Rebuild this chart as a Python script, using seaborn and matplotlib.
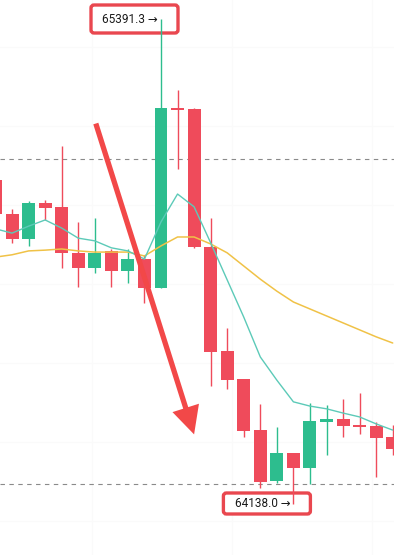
import matplotlib
matplotlib.use("Agg")
import matplotlib.pyplot as plt
import matplotlib.transforms as mtransforms
from matplotlib.patches import FancyBboxPatch
import numpy as np
import pandas as pd
import seaborn as sns

# ---------------- data ----------------
opens  = [64975, 64887, 64823, 64916, 64906, 64787, 64748, 64792, 64740, 64771,
          64696, 65159, 65159, 64802, 64533, 64461, 64329, 64197, 64270, 64231,
          64350, 64358, 64342, 64340, 64311]
highs  = [64988, 64900, 64921, 64924, 65063, 64867, 64877, 64797, 64797, 64782,
          65391.3, 65208, 65161, 64877, 64593, 64461, 64396, 64337, 64270, 64399,
          64394, 64409, 64425, 64350, 64342]
lows   = [64877, 64813, 64805, 64872, 64748, 64699, 64735, 64699, 64709, 64657,
          64696, 65004, 64800, 64443, 64435, 64311, 64179, 64192, 64138.0, 64190,
          64265, 64311, 64319, 64208, 64265]
closes = [64887, 64823, 64916, 64903, 64787, 64748, 64787, 64740, 64771, 64696,
          65161, 65156, 64802, 64531, 64458, 64327, 64195, 64270, 64231, 64353,
          64358, 64340, 64337, 64309, 64280]
ma_fast = [64849, 64838, 64856, 64872, 64851, 64825, 64818, 64800, 64792, 64771,
           64867, 64939, 64906, 64813, 64717, 64621, 64518, 64458, 64402, 64391,
           64384, 64373, 64363, 64345, 64329]
ma_slow = [64776, 64782, 64792, 64794, 64797, 64792, 64789, 64789, 64789, 64779,
           64805, 64828, 64828, 64810, 64787, 64753, 64719, 64688, 64660, 64642,
           64624, 64606, 64588, 64570, 64554]
price_lines = [65029.5, 64189.7]
high_label = "65391.3 \u2192"
low_label = "64138.0 \u2192"

# ---------------- style ----------------
sns.set_theme(style="white")
plt.rcParams["font.family"] = ["Roboto", "DejaVu Sans"]

GREEN = "#2dbd8e"
RED = "#ef4b5b"
TEAL = "#5ccab8"
YELLOW = "#f0c247"
BOX_RED = "#e9474f"
ARROW_RED = "#f24848"

idx = np.arange(len(opens))
df = pd.DataFrame({"i": idx, "open": opens, "high": highs, "low": lows,
                   "close": closes, "ma_fast": ma_fast, "ma_slow": ma_slow})
df["up"] = df["close"] >= df["open"]
df["color"] = np.where(df["up"], GREEN, RED)

W, H, DPI = 394, 555, 100
fig = plt.figure(figsize=(W / DPI, H / DPI), dpi=DPI)
ax = fig.add_axes([0, 0, 1, 1])
ax.set_facecolor("white")

# scales: candle spacing ~16.55 px, first candle centre at -4.5 px
ax.set_xlim(4.5 / 16.55, 398.5 / 16.55)
ax.set_ylim(64006.2, 65440.4)
ax.axis("off")

# very faint background grid
for gx in [5.83, 14.29, 22.75]:
    ax.axvline(gx, color="#fafafa", lw=0.8, zorder=0)
for gy in [65319, 65115, 64911, 64707, 64503, 64298, 64094]:
    ax.axhline(gy, color="#fafafa", lw=0.8, zorder=0)

# dashed price lines
for p in price_lines:
    ax.axhline(p, color="#8a8a8a", lw=0.8, ls=(0, (4, 4)), zorder=1)

# wicks
ax.vlines(df["i"], df["low"], df["high"], colors=df["color"], lw=1.0, zorder=3)
# bodies (minimum visible height for dojis)
body_bottom = np.minimum(df["open"], df["close"])
body_h = np.maximum(np.abs(df["close"] - df["open"]), 5.0)
ax.bar(df["i"], body_h, bottom=body_bottom, width=0.785, color=df["color"],
       linewidth=0, zorder=3)

# moving averages
sns.lineplot(data=df, x="i", y="ma_slow", color=YELLOW, lw=1.1, ax=ax, zorder=4)
sns.lineplot(data=df, x="i", y="ma_fast", color=TEAL, lw=1.0, ax=ax, zorder=4)
ax.set_xlabel("")
ax.set_ylabel("")

# big red arrow
ax.annotate("", xy=(12.05, 64311), xytext=(6.01, 65128),
            arrowprops=dict(arrowstyle="simple,head_length=2.0,head_width=2.0,tail_width=0.38",
                            mutation_scale=10, color=ARROW_RED, lw=0),
            zorder=5)

fig.canvas.draw()

def label_box(i, price, text, y_lo, y_hi):
    px, py = ax.transData.transform((i, price))
    trans = mtransforms.Affine2D().translate(px, py)
    box = FancyBboxPatch((-70, y_lo), 87, y_hi - y_lo,
                         boxstyle="round,pad=0,rounding_size=3",
                         transform=trans, facecolor="white",
                         edgecolor=BOX_RED, lw=2.4, zorder=2)
    ax.add_patch(box)
    ax.annotate(text, xy=(i, price), xytext=(-3, 0), textcoords="offset pixels",
                ha="right", va="center", fontsize=8.5, color="#1a1a1a",
                family=["Roboto", "DejaVu Sans"], zorder=2.5)

hi_i = int(np.argmax(highs))
lo_i = int(np.argmin(lows))
label_box(hi_i, highs[hi_i], high_label, -14, 14)
label_box(lo_i, lows[lo_i], low_label, -10, 11)

fig.savefig("out.png", dpi=DPI, facecolor="white")
